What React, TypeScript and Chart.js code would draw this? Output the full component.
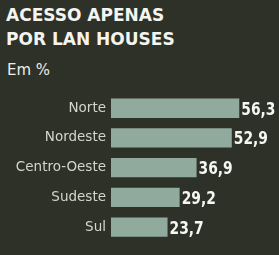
import React, { useEffect, useRef } from 'react';
import { Chart, registerables } from 'chart.js';

Chart.register(...registerables);

const categories = ['Norte', 'Nordeste', 'Centro-Oeste', 'Sudeste', 'Sul'];
const values = [56.3, 52.9, 36.9, 29.2, 23.7];
const titleLines = ['ACESSO APENAS', 'POR LAN HOUSES'];
const subtitle = 'Em %';

const COND = '"DejaVu Sans Condensed", "DejaVu Sans", sans-serif';
const NORMAL = '"DejaVu Sans", sans-serif';

export default function App() {
  const ref = useRef<HTMLCanvasElement>(null);

  useEffect(() => {
    document.body.style.margin = '0';
    const valueLabels = {
      id: 'valueLabels',
      afterDatasetsDraw(chart: any) {
        const ctx = chart.ctx;
        const meta = chart.getDatasetMeta(0);
        meta.data.forEach((el: any, i: number) => {
          ctx.save();
          ctx.font = 'bold 17.5px ' + COND;
          ctx.fillStyle = '#f6f6f2';
          ctx.textBaseline = 'alphabetic';
          ctx.textAlign = 'left';
          ctx.translate(el.x + 2, el.y + 6.5);
          ctx.scale(0.88, 1);
          ctx.fillText(values[i].toFixed(1).replace('.', ','), 0, 0);
          ctx.restore();
        });
      },
    };
    const chart = new Chart(ref.current as HTMLCanvasElement, {
      type: 'bar',
      data: {
        labels: categories,
        datasets: [
          {
            data: values,
            backgroundColor: '#90aa9e',
            base: -2,
            categoryPercentage: 1,
            barPercentage: 0.65,
          } as any,
        ],
      },
      options: {
        indexAxis: 'y',
        animation: false,
        responsive: false,
        maintainAspectRatio: false,
        layout: { padding: { top: 93.4, right: 9.6, bottom: 0.4, left: 0 } },
        plugins: { legend: { display: false }, tooltip: { enabled: false } },
        scales: {
          x: { display: false, min: -2, max: 70 },
          y: {
            grid: { display: false, drawTicks: false },
            border: { display: false },
            ticks: {
              color: '#d4d5cd',
              font: { family: NORMAL, size: 13.5 },
              padding: 5,
            },
            afterFit: (s: any) => {
              s.width = 111;
            },
          },
        },
      },
      plugins: [valueLabels],
    });
    return () => chart.destroy();
  }, []);

  return (
    <div
      style={{
        position: 'fixed',
        left: 0,
        top: 0,
        width: 279,
        height: 255,
        background: '#2e3128',
        overflow: 'hidden',
      }}
    >
      <div
        style={{
          position: 'absolute',
          left: 6,
          top: 3,
          fontFamily: NORMAL,
          fontWeight: 'bold',
          fontSize: 17,
          lineHeight: '24px',
          color: '#f4f4f0',
          whiteSpace: 'nowrap',
        }}
      >
        {titleLines.map((t) => (
          <div key={t}>{t}</div>
        ))}
      </div>
      <div
        style={{
          position: 'absolute',
          left: 7,
          top: 63.3,
          fontFamily: NORMAL,
          fontSize: 15,
          lineHeight: '15px',
          color: '#ecece6',
          whiteSpace: 'nowrap',
        }}
      >
        {subtitle}
      </div>
      <canvas ref={ref} width={279} height={255} style={{ position: 'absolute', left: 0, top: 0 }} />
    </div>
  );
}
